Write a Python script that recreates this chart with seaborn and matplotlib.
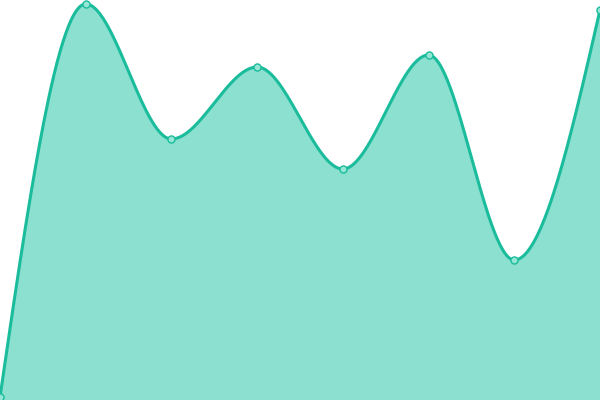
import numpy as np
import pandas as pd
import matplotlib
matplotlib.use("Agg")
import matplotlib.pyplot as plt
import seaborn as sns

# Data
categories = [0, 1, 2, 3, 4, 5, 6, 7]
values = [3, 396, 261, 333, 231, 345, 140, 390]

LINE = "#1abc9c"
FILL = "#8be0d0"


def monotone_x(x, y, n=60):
    x = np.asarray(x, float)
    y = np.asarray(y, float)
    h = np.diff(x)
    s = np.diff(y) / h
    t = np.zeros_like(y)
    for i in range(1, len(y) - 1):
        s0, s1 = s[i - 1], s[i]
        p = (s0 * h[i] + s1 * h[i - 1]) / (h[i - 1] + h[i])
        t[i] = (np.sign(s0) + np.sign(s1)) * min(abs(s0), abs(s1), 0.5 * abs(p))
    t[0] = (3 * s[0] - t[1]) / 2
    t[-1] = (3 * s[-1] - t[-2]) / 2
    xs, ys = [], []
    for i in range(len(h)):
        u = np.linspace(0, 1, n, endpoint=(i == len(h) - 1))
        h00 = 2 * u**3 - 3 * u**2 + 1
        h10 = u**3 - 2 * u**2 + u
        h01 = -2 * u**3 + 3 * u**2
        h11 = u**3 - u**2
        xs.append(x[i] + u * h[i])
        ys.append(h00 * y[i] + h10 * h[i] * t[i] + h01 * y[i + 1] + h11 * h[i] * t[i + 1])
    return np.concatenate(xs), np.concatenate(ys)


sns.set_theme(style="white")
fig = plt.figure(figsize=(6, 4), dpi=100)
ax = fig.add_axes([0, 0, 1, 1])

cx, cy = monotone_x(categories, values)
ax.fill_between(cx, 0, cy, color=FILL, linewidth=0, zorder=1)
sns.lineplot(x=cx, y=cy, ax=ax, color=LINE, linewidth=2.2, sort=False, zorder=2)
sns.scatterplot(x=categories, y=values, ax=ax, s=26, color="#96e6d6",
                edgecolor=LINE, linewidth=1.0, zorder=3)

ax.set_xlim(0, 7)
ax.set_ylim(0, 400)
ax.axis("off")
fig.savefig("out.png", dpi=100)
